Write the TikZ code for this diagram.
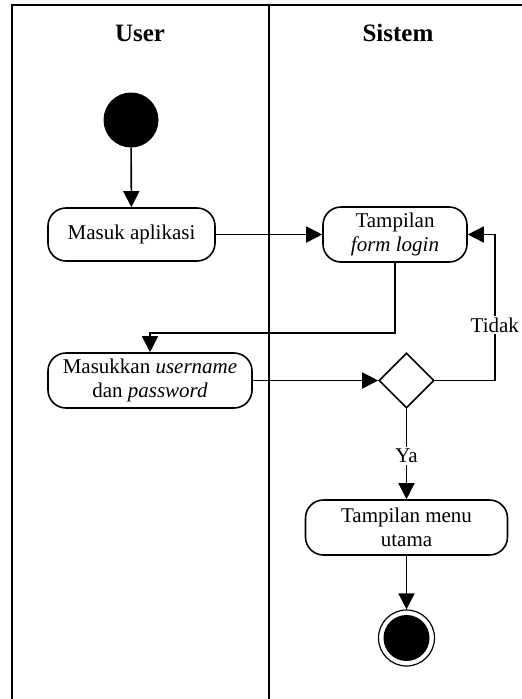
\documentclass[tikz,border=0pt]{standalone}
\usepackage{fontspec}
\setmainfont{Liberation Serif}
\usetikzlibrary{arrows.meta,shapes.geometric}
\begin{document}
\begin{tikzpicture}[x=1pt,y=-1pt,
  activity/.style={draw, line width=1.6pt, rounded corners=18pt, align=center,
    font=\fontsize{21}{24}\selectfont, inner sep=0pt},
  decision/.style={diamond, draw, line width=1.6pt, minimum width=55pt,
    minimum height=55pt, inner sep=0pt},
  flow/.style={-{Triangle[length=16pt,width=16pt]}, line width=1.6pt},
  guard/.style={fill=white, inner sep=2pt, font=\fontsize{21}{24}\selectfont},
  lane/.style={line width=2.2pt},
  header/.style={font=\bfseries\fontsize{25}{28}\selectfont}]
\useasboundingbox (0,0) rectangle (522,699);

% swimlane frame
\draw[lane] (12,699) -- (12,5) -- (522,5);
\draw[lane] (269,5) -- (269,699);
\node[header] (huser) at (140,33) {User};
\node[header] (hsistem) at (398,33) {Sistem};

% nodes
\node[circle, fill, minimum size=55pt, inner sep=0pt] (start) at (131,120) {};
\node[activity, minimum width=167pt, minimum height=53pt] (masuk) at (131.5,234.5) {Masuk aplikasi};
\node[activity, minimum width=144pt, minimum height=55pt] (form) at (395,234.5) {Tampilan\\\textit{form login}};
\node[activity, minimum width=204pt, minimum height=55pt] (input) at (150,380.5) {Masukkan \textit{username}\\dan \textit{password}};
\node[decision] (cek) at (406.5,380.5) {};
\node[activity, minimum width=202pt, minimum height=55pt] (menu) at (406.5,527.5) {Tampilan menu\\utama};
\node[circle, draw, line width=1.2pt, minimum size=56pt, inner sep=0pt] (end) at (406.5,638) {};
\node[circle, fill, minimum size=46pt, inner sep=0pt] (endin) at (end) {};

% connectors
\draw[flow] (start) -- (masuk);
\draw[flow] (masuk) -- (form);
\draw[flow] (form.south) -- ++(0,70) -| (input.north);
\draw[flow] (input) -- (cek);
\draw[flow] (cek.east) -- ++(60,0) |- node[guard, pos=0.19] {Tidak} (form.east);
\draw[flow] (cek.south) -- node[guard, pos=0.52] {Ya} (menu.north);
\draw[flow] (menu) -- (end);
\end{tikzpicture}
\end{document}
